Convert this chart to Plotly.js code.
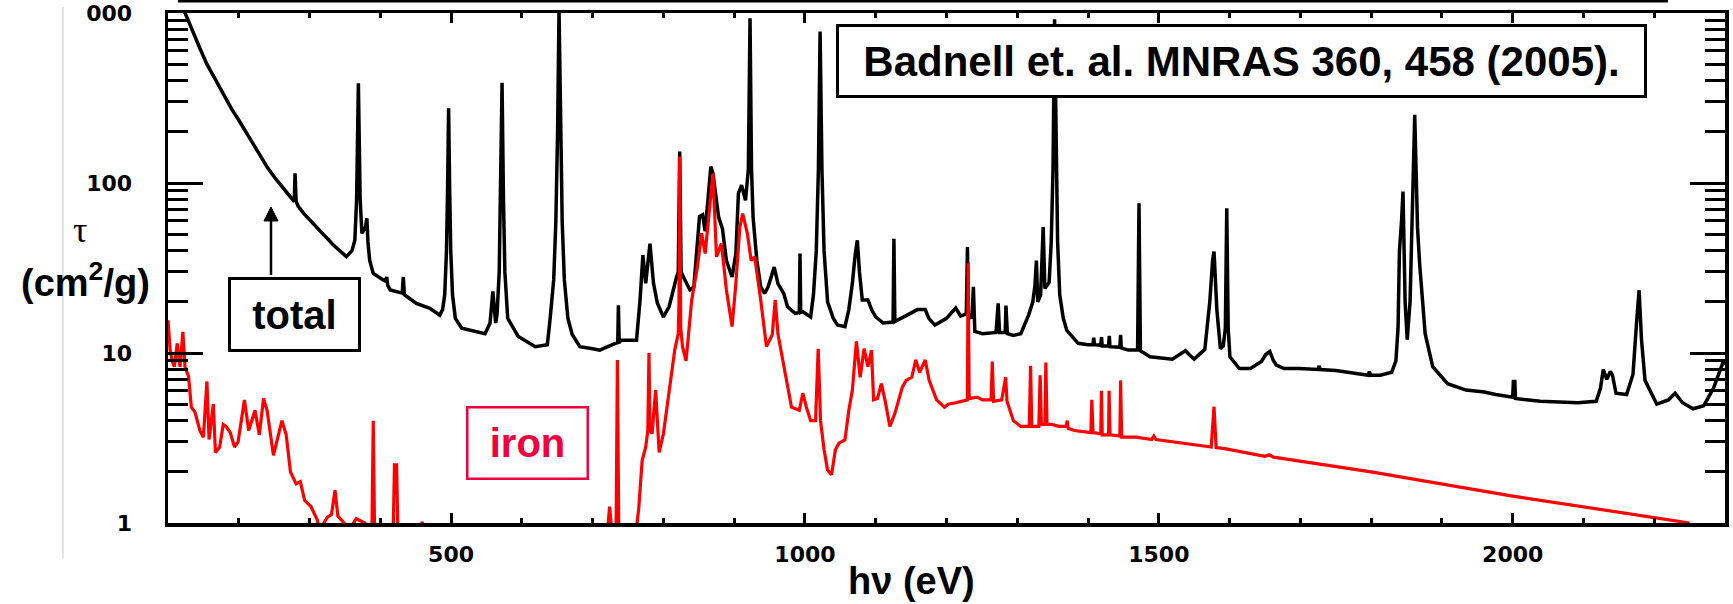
<!DOCTYPE html>
<html>
<head>
<meta charset="utf-8">
<script src="https://cdn.plot.ly/plotly-3.0.1.min.js"></script>
<style>html,body{margin:0;padding:0;background:#fff;}#chart{width:1733px;height:604px;}</style>
</head>
<body>
<div id="chart"></div>
<script>
// Photon energy (eV) and opacity tau (cm^2/g)
const totalE = [120,124,130,136,145,155,164,172,183,190,199,210,221,230,240,252,263,270,277,278.5,279.5,281,284,292,305,320,334,352,360,364,366.5,369,371.5,374,379,381,382.5,385,390,404,407.5,409,410.5,414,428,431,432.5,434,451,470,484,488,491,493.5,495,496.5,498,499.5,502,506,515,530,548,555,559,563,565,568,570,572,574,576,580,595,619,636,640,645,648,650.5,652.5,654.5,657,660,665,671,682,700,710,732,735.5,736.4,737.5,740,762,767,771,775,781,786,791.5,800,808,818.6,821,823,825,829,837.5,843,851,855.4,859,867,870,878,883.5,889,897,902.4,906,910.5,916,920,922.4,924.5,926.7,932,937.5,943,948,956.5,962,970,975.4,986,992,993,994,997,1008,1012,1016,1019,1021.4,1024,1027,1032,1040,1046,1056.5,1062,1067,1071,1074,1077,1081,1089,1094.4,1100,1110.6,1124.5,1125.7,1127,1143,1159,1170,1175,1183.6,1200,1213,1220,1228,1229.6,1231,1236,1238,1240,1251,1270,1273,1275,1283,1284,1286,1294.5,1305,1316,1322,1325,1327,1329,1333,1336.6,1339,1345,1348,1350.5,1352.7,1355,1357,1360,1365,1370,1386,1400,1407,1408,1409,1418,1419,1420,1429,1430,1431,1445,1446,1447,1456.7,1470,1472,1474,1487.6,1519,1530,1537.5,1545,1550,1565,1572,1576,1578,1582,1587,1591,1594,1596,1598,1600.5,1613.7,1629.4,1645,1651,1656.8,1662,1666,1677,1698,1725,1726.6,1728,1750,1796,1797.5,1799,1813,1829,1835,1838,1840,1843,1845,1848,1851,1855,1858,1860,1861.6,1863.5,1865.5,1868.5,1873,1876.3,1887,1908,1934,1960,1976,2000,2001,2003,2004,2039,2092,2118,2124,2128,2133,2138,2141,2146,2161,2170,2175,2178.6,2182,2187,2203.6,2220,2229.5,2240,2255,2270,2283.7,2293,2298,2300];
const totalTau = [1100,1000,870,760,620,500,425,370,309,272,238,198,168,146,124,106,93,86,79,80,114,78,73,66,58,50,43,36.9,40,46,80,386,80,50.6,55,62,45,35,29.4,26.9,26.5,28,25,23.5,22.5,22.5,28,22,19.6,18.3,16.7,18,22,40,90,275,90,40,22,16,14,13.5,13,15,23,15,17,30,80,389,80,30,16,12.5,10.9,11.2,16,27,59,200,1050,200,59,27,16,12.9,10.9,10.6,10.4,11.4,11.5,19.1,11.5,11.9,11.9,20.5,37.7,25.7,44,25.7,19.6,16.3,18.7,28,30,153,30,27.6,23.5,24.5,63.4,65,52,125,114,63,53.6,35,28,38.5,87,97,79,120,930,120,63,35,24.5,22.4,24.5,32,25.5,22.4,18.7,17.1,17.3,38.5,17.3,17.5,16.3,22,40,120,777,120,40,20,16,14.6,14.3,18,25.7,38,46,30,20.5,20.5,17.9,16.3,15,15.2,47,15.3,16.7,18,18,16,14.6,16,18.4,16.5,17,42,17,16,24.5,13.4,13,13.2,19.6,13.2,13.2,19,13,12.7,13,16.7,20,25,35,20,22,55,24,26,45,120,920,120,45,22,16,13.6,11.4,11.2,11.2,12.3,11.2,11.1,12.4,11,11,12.6,10.9,10.8,12.8,10.7,10.4,10.4,76,10.3,9.5,9.2,9.8,10.3,9.6,9.2,10.5,20,35,39.5,18,10.6,11,14,71,14,9.5,8.1,8.1,8.9,9.8,10.2,9,8.5,8.1,8.1,8,8.4,8,7.9,7.4,7.8,7.4,7.4,7.7,9,14,40,60,89,20,12,20,60,120,252,120,55,33.6,18,13,8.3,6.6,6.05,5.9,5.7,5.5,6.8,6.8,5.4,5.2,5.1,5.2,6.2,8,7,7.8,7.4,5.8,5.7,7.5,15,23.4,12,6.9,5,5.3,5.8,5.1,4.7,4.9,6.2,8,9,8.5];

const ironE = [100,103,106,109,113,117,121,124,129,133,138,145,150,155,158,164,167,173,178,182,188,194,199,208,214,223,229,235,240,249,261,267,273,281,287,293,302,311,314,325,331,336,340,349,355,366,378,385,388,390,392,418,420,423,425,458,459,460,462,720,724,727,733,735,737,760,765,770,775,778,779.6,781,784,789,791,794,800,808,816,821,822,823,824.5,827,832,840,848,854,859,864.5,870,875,882,889,897,902,908,912,918.6,924,929,937.5,945.6,953.8,958,962,970,981,992,997,1002,1008,1015,1018.7,1022,1027,1032,1037.6,1043,1048,1056.5,1062,1067,1072.7,1078,1083.6,1089,1094,1097,1102.5,1108,1113,1120,1127,1137.6,1143,1151,1156.6,1162,1170,1175.5,1181,1186,1197,1202.5,1213,1227,1229.5,1230.6,1232,1243,1251,1263,1264.7,1266.5,1278,1283.6,1285.5,1294.5,1305,1317,1318.8,1320.5,1330.5,1332.3,1334,1339,1340.4,1342,1348.6,1359,1369,1370.5,1372,1381,1404,1405.3,1407,1418,1418.9,1420,1429,1429.7,1431,1445,1446,1447.5,1467.5,1490,1493,1496,1521,1556,1574,1578,1581,1593,1650,1656,1662,1800,2000,2250];
const ironTau = [15.6,10.4,9,8.3,11.4,8.3,13.3,8.3,7.3,4.8,4.5,3.5,3.2,6.8,3.1,5,2.6,2.8,3.8,3.7,3.4,2.8,3,5.3,3.5,4.6,3.3,5.4,4.6,2.5,4,3.3,2,1.7,1.75,1.36,1.25,1.04,0.9,1.08,1.12,1.56,1.1,1,0.9,1.06,1,0.9,0.8,4,0.8,0.8,2.2,2.2,0.8,0.9,1.02,0.9,0.8,0.8,1.25,0.9,0.8,9.1,0.8,0.8,1.2,2.34,2.8,3.5,10,3.5,3.35,6.05,4.5,2.6,3.35,6,10.4,13,20,143,14,10.9,9,20.5,32,50.6,38.5,66,114,36.8,44,23.5,14.3,24.6,55,66,50.6,35,36.8,20.5,10.9,12.8,20.5,12.8,8.3,4.8,4.6,5.8,4.8,4,4,10.6,4,2.7,2.05,1.92,2.7,2.95,3.08,4.6,6.05,11.7,7.2,10.6,8.3,10.4,5.3,5.4,6.6,5.3,3.7,4.4,6.3,6.9,7.2,9.1,7.7,9.1,6.9,6,5.3,4.8,5,5.1,5.3,5.3,33.7,5.4,5.5,5.3,5.3,8.9,5.2,5.3,7.2,5.2,4,3.7,3.7,8.4,3.7,3.7,7.4,3.8,3.8,8.8,3.8,3.8,3.7,3.7,4,3.6,3.5,3.4,5.3,3.4,3.35,6,3.3,3.3,6,3.3,3.25,6.9,3.2,3.2,3.1,3.25,3.1,3,2.87,2.8,4.83,2.78,2.74,2.47,2.52,2.44,2,1.44,1];

const xMajorTicks = [500,1000,1500,2000];
const yTickVals = [1,10,100,1000];
const yTickText = ['1','10','100','000'];
const yMinorTicks = [2,3,4,5,6,7,8,9,20,30,40,50,60,70,80,90,200,300,400,500,600,700,800,900];

const tickFont = {family:'DejaVu Sans, Arial, sans-serif', size:22, color:'#000', weight:'bold'};

const traces = [
  {x: totalE, y: totalTau, type:'scatter', mode:'lines', name:'total',
   line:{color:'#000000', width:3.5}, hoverinfo:'x+y'},
  {x: ironE, y: ironTau, type:'scatter', mode:'lines', name:'iron',
   line:{color:'#ff0000', width:3.2}, hoverinfo:'x+y'}
];

const layout = {
  width:1733, height:604,
  margin:{l:168, r:8, t:13, b:81},
  paper_bgcolor:'#ffffff', plot_bgcolor:'#ffffff',
  showlegend:false,
  xaxis:{
    range:[100,2300], tickvals:xMajorTicks, ticks:'inside', ticklen:10, tickwidth:3, tickcolor:'#000',
    showline:true, linewidth:3.5, linecolor:'#000', mirror:'ticks', showgrid:false, zeroline:false,
    tickfont:tickFont, ticklabelstandoff:9,
    minor:{dtick:100, tick0:0, ticks:'inside', ticklen:5, tickwidth:3, tickcolor:'#000', showgrid:false}
  },
  yaxis:{
    type:'log', range:[0,3], tickvals:yTickVals, ticktext:yTickText,
    ticks:'inside', ticklen:35, tickwidth:3, tickcolor:'#000',
    showline:true, linewidth:3.5, linecolor:'#000', mirror:'ticks', showgrid:false, zeroline:false,
    tickfont:tickFont, ticklabelstandoff:28,
    minor:{tickvals:yMinorTicks, ticks:'inside', ticklen:20, tickwidth:3, tickcolor:'#000', showgrid:false}
  },
  shapes:[
    {type:'line', xref:'paper', yref:'paper', x0:0.0064, x1:0.9634, y0:1.0235, y1:1.0235,
     line:{color:'#000', width:3}},
    {type:'line', xref:'paper', yref:'paper', x0:-0.0674, x1:-0.0674, y0:-0.0686, y1:1.0118,
     line:{color:'#dddddd', width:1.5}},
    // arrow from the "total" box up to the curve
    {type:'line', xref:'paper', yref:'paper', x0:0.06615, x1:0.06615, y0:0.4863, y1:0.5960,
     line:{color:'#000', width:2.5}},
    {type:'path', xref:'paper', yref:'paper', path:'M 0.06615 0.6196 L 0.06166 0.5922 L 0.07065 0.5922 Z',
     fillcolor:'#000', line:{color:'#000', width:1}}
  ],
  annotations:[
    {xref:'paper', yref:'paper', x:0.6895, y:0.9059, xanchor:'center', yanchor:'middle',
     text:'<b>Badnell et. al. MNRAS 360, 458 (2005).</b>', showarrow:false,
     font:{family:'Liberation Sans, Arial, sans-serif', size:42, color:'#000'},
     bordercolor:'#000', borderwidth:3, borderpad:0, bgcolor:'#ffffff', width:805, height:68},
    {xref:'paper', yref:'paper', x:0.08125, y:0.4088, xanchor:'center', yanchor:'middle',
     text:'<b>total</b>', showarrow:false,
     font:{family:'Liberation Sans, Arial, sans-serif', size:40, color:'#000'},
     bordercolor:'#000', borderwidth:3, borderpad:0, bgcolor:'#ffffff', width:127, height:69},
    {xref:'paper', yref:'paper', x:0.2308, y:0.1569, xanchor:'center', yanchor:'middle',
     text:'<b>iron</b>', showarrow:false,
     font:{family:'Liberation Sans, Arial, sans-serif', size:40, color:'#f0003c'},
     bordercolor:'#f0003c', borderwidth:2.5, borderpad:0, bgcolor:'#ffffff', width:118, height:69},
    {xref:'paper', yref:'paper', x:0.4772, y:-0.1137, xanchor:'center', yanchor:'middle',
     text:'<b>hν (eV)</b>', showarrow:false,
     font:{family:'Liberation Sans, Arial, sans-serif', size:38, color:'#000'}},
    {xref:'paper', yref:'paper', x:-0.0565, y:0.5745, xanchor:'center', yanchor:'middle',
     text:'τ', showarrow:false,
     font:{family:'Liberation Serif, Times New Roman, serif', size:36, color:'#000'}},
    {xref:'paper', yref:'paper', x:-0.0527, y:0.4765, xanchor:'center', yanchor:'middle',
     text:'<b>(cm<sup>2</sup>/g)</b>', showarrow:false,
     font:{family:'Liberation Sans, Arial, sans-serif', size:38, color:'#000'}}
  ]
};

Plotly.newPlot('chart', traces, layout, {displayModeBar:false, staticPlot:true});
</script>
</body>
</html>
